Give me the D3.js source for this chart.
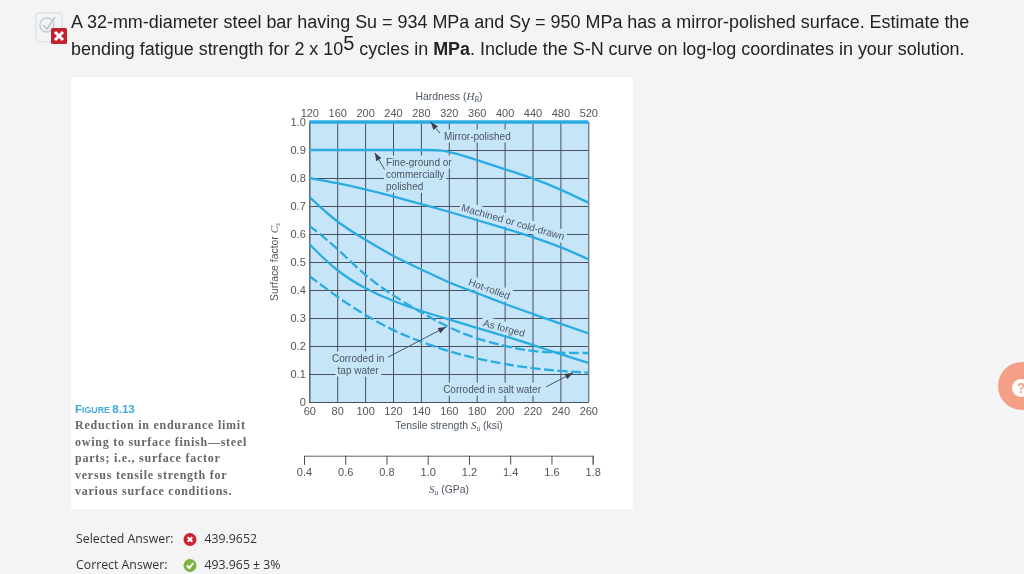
<!DOCTYPE html>
<html>
<head>
<meta charset="utf-8">
<script src="https://cdn.jsdelivr.net/npm/d3@7"></script>
<style>
  html, body { margin: 0; padding: 0; background: #f4f4f4; overflow: hidden; }
  svg { display: block; }
  text { font-family: "Liberation Sans", Arial, sans-serif; }
  .tick text { font-size: 11px; fill: #555; }
  .note { font-size: 10px; fill: #4c5661; }
  .axis-title { font-size: 10.4px; fill: #4c5661; }
  .q { font-size: 17.95px; fill: #222; }
  .ans { font-family: "Open Sans", sans-serif; font-size: 12.3px; fill: #333; }
  .cap { font-family: "Liberation Serif", serif; font-weight: bold; font-size: 12px; fill: #666; letter-spacing: .75px; }
</style>
</head>
<body>
<svg id="page" width="1024" height="574"></svg>
<script>
// Tick labels
const ksiTicks = [60, 80, 100, 120, 140, 160, 180, 200, 220, 240, 260];
const hardnessTicks = [120, 160, 200, 240, 280, 320, 360, 400, 440, 480, 520];
const gpaTicks = [0.4, 0.6, 0.8, 1.0, 1.2, 1.4, 1.6, 1.8];
const factorTicks = [0, 0.1, 0.2, 0.3, 0.4, 0.5, 0.6, 0.7, 0.8, 0.9, 1.0];

// Curves: [Su in ksi, Cs]
const mirror = [[60, 1], [260, 1]];
const fineGround = [[60, 0.9], [100, 0.9], [130, 0.9], [145, 0.9], [155, 0.9], [165, 0.888], [180, 0.864], [200, 0.832], [220, 0.8], [240, 0.76], [260, 0.712]];
const machined = [[60, 0.8], [80, 0.782], [100, 0.76], [120, 0.735], [140, 0.707], [160, 0.68], [180, 0.65], [200, 0.62], [220, 0.59], [240, 0.555], [260, 0.51]];
const hotRolled = [[60, 0.733], [80, 0.64], [100, 0.58], [120, 0.52], [140, 0.475], [160, 0.425], [180, 0.39], [200, 0.35], [220, 0.315], [240, 0.28], [260, 0.245]];
const asForged = [[60, 0.564], [80, 0.465], [100, 0.405], [120, 0.36], [140, 0.325], [160, 0.295], [180, 0.265], [200, 0.235], [220, 0.205], [240, 0.17], [260, 0.14]];
const tapWater = [[60, 0.63], [80, 0.55], [100, 0.45], [120, 0.38], [140, 0.32], [160, 0.265], [180, 0.225], [200, 0.2], [220, 0.18], [240, 0.175], [260, 0.175]];
const saltWater = [[60, 0.45], [80, 0.375], [100, 0.31], [120, 0.255], [140, 0.215], [160, 0.18], [180, 0.155], [200, 0.135], [220, 0.12], [240, 0.11], [260, 0.105]];

const captionLines = [
  "Reduction in endurance limit",
  "owing to surface finish\u2014steel",
  "parts; i.e., surface factor",
  "versus tensile strength for",
  "various surface conditions."
];

const svg = d3.select("#page");

/// SCALES ///
let x = d3.scaleLinear().domain([60, 260]).range([309.3, 588.3]);
let xHard = d3.scaleLinear().domain([120, 520]).range([309.3, 588.3]);
let xGpa = d3.scaleLinear().domain([0.4, 1.8]).range([304, 592.7]);
let y = d3.scaleLinear().domain([0, 1]).range([402, 122]);

const softFilter = svg.append("defs").append("filter").attr("id", "soft");
softFilter.append("feGaussianBlur").attr("stdDeviation", 0.35);

const arrowHead = svg.select("defs").append("marker")
  .attr("id", "head").attr("viewBox", "0 0 8 6").attr("refX", 8).attr("refY", 3)
  .attr("markerWidth", 8).attr("markerHeight", 6).attr("markerUnits", "userSpaceOnUse")
  .attr("orient", "auto");
arrowHead.append("path").attr("d", "M0,0L8,3L0,6Z").attr("fill", "#39434d");

// white panel of the scanned figure
svg.append("rect").attr("x", 71).attr("y", 77).attr("width", 562).attr("height", 432).attr("fill", "#fff");

const fig = svg.append("g").attr("filter", "url(#soft)");

fig.append("rect")
  .attr("x", x(60)).attr("y", y(1))
  .attr("width", x(260) - x(60)).attr("height", y(0) - y(1))
  .attr("fill", "#c6e5f9");

/// AXES AND GRID ///
let xAxis = d3.axisBottom(x).tickValues(ksiTicks).tickSize(-(y(0) - y(1))).tickPadding(5).tickSizeOuter(0);
let hardAxis = d3.axisTop(xHard).tickValues(hardnessTicks).tickSize(0).tickPadding(5);
let yAxis = d3.axisLeft(y).tickValues(factorTicks).tickSize(-(x(260) - x(60))).tickPadding(3.5)
  .tickFormat((d) => (d === 0 ? "0" : d3.format(".1f")(d)));
let gpaAxis = d3.axisBottom(xGpa).tickValues(gpaTicks).tickSize(9).tickPadding(4).tickFormat(d3.format(".1f"));

fig.append("g").attr("transform", `translate(0,${y(0)})`).call(xAxis);
fig.append("g").attr("transform", `translate(${x(60)},0)`).call(yAxis);
fig.append("g").attr("transform", `translate(0,${y(1)})`).call(hardAxis);
fig.append("g").attr("transform", "translate(0,455.7)").call(gpaAxis);

fig.selectAll(".domain").attr("stroke", "#5b6670").attr("stroke-width", 1);
fig.selectAll(".tick line").attr("stroke", "#46515b").attr("stroke-width", 1);
fig.selectAll(".tick text").attr("fill", "#555");

// the boxes behind the labels hide the grid there
const notes = fig.append("g");
const curves = fig.append("g");
const arrows = fig.append("g");

let line = d3.line()
  .x((d) => x(d[0]))
  .y((d) => y(d[1]))
  .curve(d3.curveBasis);

function drawCurve(data, width, dash) {
  curves.append("path")
    .attr("d", line(data))
    .attr("fill", "none")
    .attr("stroke", "#2bace2")
    .attr("stroke-width", width)
    .attr("stroke-dasharray", dash);
}

drawCurve(mirror, 3.5, null);
drawCurve(fineGround, 2.3, null);
drawCurve(machined, 2.3, null);
drawCurve(hotRolled, 2.3, null);
drawCurve(asForged, 2.3, null);
drawCurve(tapWater, 2.3, "10 3.5");
drawCurve(saltWater, 2.3, "10 3.5");

/// ANNOTATIONS ///
function addNote(ksi, cs, txt, anchor, angle) {
  let g = notes.append("g")
    .attr("transform", `translate(${x(ksi)},${y(cs)}) rotate(${angle || 0})`);
  let t = g.append("text")
    .attr("class", "note")
    .attr("text-anchor", anchor || "middle")
    .attr("dy", "0.35em")
    .text(txt);
  let b = t.node().getBBox();
  g.insert("rect", "text")
    .attr("x", b.x - 2).attr("y", b.y - 1)
    .attr("width", b.width + 4).attr("height", b.height + 2)
    .attr("fill", "#c6e5f9");
}

addNote(180.5, 0.95, "Mirror-polished");
addNote(115, 0.857, "Fine-ground or", "start");
addNote(115, 0.814, "commercially", "start");
addNote(115, 0.771, "polished", "start");
addNote(206, 0.643, "Machined or cold-drawn", "middle", 16);
addNote(189, 0.404, "Hot-rolled", "middle", 20);
addNote(199.6, 0.264, "As forged", "middle", 15);
addNote(95, 0.157, "Corroded in");
addNote(95, 0.114, "tap water");
addNote(191, 0.046, "Corroded in salt water");

function addArrow(ksi0, cs0, ksi1, cs1) {
  arrows.append("line")
    .attr("x1", x(ksi0)).attr("y1", y(cs0))
    .attr("x2", x(ksi1)).attr("y2", y(cs1))
    .attr("stroke", "#4c5661")
    .attr("marker-end", "url(#head)");
}

addArrow(153.7, 0.96, 147, 1.0);
addArrow(114, 0.83, 107, 0.89);
addArrow(116.4, 0.16, 158, 0.268);
addArrow(229.7, 0.054, 249, 0.104);

/// AXIS TITLES ///
function subTitle(parent, px, py, parts, rot) {
  let t = parent.append("text")
    .attr("class", "axis-title")
    .attr("text-anchor", "middle")
    .attr("transform", `translate(${px},${py}) rotate(${rot || 0})`);
  parts.forEach((p) => {
    let s = t.append("tspan").text(p[0]);
    if (p[1] === "i") s.attr("font-family", "Liberation Serif").attr("font-style", "italic").attr("font-size", 11);
    if (p[1] === "s") s.attr("font-family", "Liberation Serif").attr("font-style", "italic").attr("font-size", 7.5).attr("dy", 2);
    if (p[1] === "b") s.attr("dy", -2);
  });
}

subTitle(fig, 449, 100, [["Hardness ("], ["H", "i"], ["B", "s"], [")", "b"]]);
subTitle(fig, 449, 429, [["Tensile strength "], ["S", "i"], ["u", "s"], [" (ksi)", "b"]]);
subTitle(fig, 449, 493, [["S", "i"], ["u", "s"], [" (GPa)", "b"]]);
subTitle(fig, 278, 262, [["Surface factor "], ["C", "i"], ["s", "s"]], -90);

/// CAPTION ///
let figLabel = fig.append("text")
  .attr("x", 75).attr("y", 413)
  .attr("font-weight", "bold")
  .attr("fill", "#3fa9dc")
  .attr("font-size", 11.5);
figLabel.append("tspan").text("F");
figLabel.append("tspan").attr("font-size", 8.8).text("IGURE ");
figLabel.append("tspan").text("8.13");

fig.selectAll(".cap")
  .data(captionLines)
  .enter()
  .append("text")
  .attr("class", "cap")
  .attr("x", 75)
  .attr("y", (d, i) => 429 + i * 16.6)
  .text((d) => d);

/// QUESTION TEXT ///
svg.append("text").attr("class", "q").attr("x", 71).attr("y", 28)
  .text("A 32-mm-diameter steel bar having Su = 934 MPa and Sy = 950 MPa has a mirror-polished surface. Estimate the");

let q2 = svg.append("text").attr("class", "q").attr("x", 71).attr("y", 55);
q2.append("tspan").text("bending fatigue strength for 2 x 10");
q2.append("tspan").attr("font-size", 20).attr("dy", -5).text("5");
q2.append("tspan").attr("dy", 5).text(" cycles in ");
q2.append("tspan").attr("font-weight", "bold").text("MPa");
q2.append("tspan").text(". Include the S-N curve on log-log coordinates in your solution.");

// question status icon
svg.append("rect").attr("x", 36).attr("y", 13).attr("width", 26).attr("height", 29).attr("rx", 2)
  .attr("fill", "#f2f4f6").attr("stroke", "#d5dade");
svg.append("circle").attr("cx", 47).attr("cy", 25).attr("r", 7)
  .attr("fill", "none").attr("stroke", "#c5ccd2").attr("stroke-width", 1.5);
svg.append("path").attr("d", "M43,25L47,29L55,17").attr("fill", "none").attr("stroke", "#b9c2c9").attr("stroke-width", 1.5);
svg.append("rect").attr("x", 51).attr("y", 28).attr("width", 16).attr("height", 16).attr("rx", 1.5).attr("fill", "#c4202f");
svg.append("path").attr("d", "M55,32L63,40M63,32L55,40").attr("stroke", "#fff").attr("stroke-width", 3);

/// ANSWERS ///
svg.append("text").attr("class", "ans").attr("x", 76).attr("y", 543).text("Selected Answer:");
svg.append("text").attr("class", "ans").attr("x", 76).attr("y", 569).text("Correct Answer:");
svg.append("text").attr("class", "ans").attr("x", 204.5).attr("y", 543).text("439.9652");
svg.append("text").attr("class", "ans").attr("x", 204.5).attr("y", 569).text("493.965 \u00b1 3%");

svg.append("circle").attr("cx", 190).attr("cy", 539.5).attr("r", 6.5).attr("fill", "#cf2030");
svg.append("path").attr("d", "M187.7,537.2L192.3,541.8M192.3,537.2L187.7,541.8").attr("stroke", "#fff").attr("stroke-width", 2);
svg.append("circle").attr("cx", 190).attr("cy", 565.5).attr("r", 6.5).attr("fill", "#7cb342");
svg.append("path").attr("d", "M187,565.5L189.3,568L193.3,563").attr("fill", "none").attr("stroke", "#fff").attr("stroke-width", 2);

/// HELP BUTTON ///
svg.append("circle").attr("cx", 1022).attr("cy", 386).attr("r", 24).attr("fill", "#f4a088");
svg.append("circle").attr("cx", 1021).attr("cy", 388).attr("r", 9).attr("fill", "#fff");
svg.append("text").attr("x", 1021).attr("y", 393).attr("text-anchor", "middle")
  .attr("font-size", 14).attr("font-weight", "bold").attr("fill", "#f4a088").text("?");
</script>
</body>
</html>
